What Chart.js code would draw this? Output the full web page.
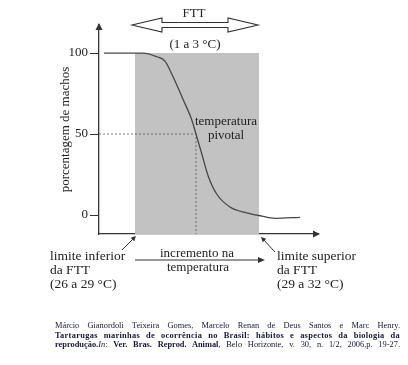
<!DOCTYPE html>
<html>
<head>
<meta charset="utf-8">
<script src="https://cdn.jsdelivr.net/npm/chart.js@4"></script>
<style>
  body { margin: 0; background: #fff; }
  #wrap { position: relative; width: 408px; height: 365px; font-family: "Liberation Serif", "Times New Roman", serif; color: #222; }
  #chart { position: absolute; left: 0; top: 0; }
  .lbl { position: absolute; font-size: 13px; line-height: 14px; white-space: nowrap; }
  .c { transform: translate(-50%, -50%); text-align: center; }
  .blk { font-size: 13.5px; line-height: 14px; }
  .cite { position: absolute; left: 55px; top: 321px; width: 345px; font-size: 8.4px; line-height: 9.6px; color: #16163a; }
  .cite div { text-align: justify; text-align-last: justify; white-space: nowrap; }
  .cite .b { font-weight: bold; letter-spacing: 0.3px; }
</style>
</head>
<body>
<div id="wrap">
  <canvas id="chart" width="408" height="365"></canvas>

  <div class="lbl c" style="left:194px; top:13px;">FTT</div>
  <div class="lbl c" style="left:195px; top:44px;">(1 a 3 °C)</div>
  <div class="lbl c" style="left:226px; top:128px;">temperatura<br>pivotal</div>

  <div class="lbl blk" style="left:50px; top:249px;">limite inferior<br>da FTT<br>(26 a 29 °C)</div>
  <div class="lbl c" style="left:197px; top:253px;">incremento na</div>
  <div class="lbl c" style="left:198px; top:267px;">temperatura</div>
  <div class="lbl blk" style="left:277px; top:249px;">limite superior<br>da FTT<br>(29 a 32 °C)</div>

  <div class="cite">
    <div>Márcio Gianordoli Teixeira Gomes, Marcelo Renan de Deus Santos e Marc Henry.</div>
    <div class="b">Tartarugas marinhas de ocorrência no Brasil: hábitos e aspectos da biologia da</div>
    <div><b>reprodução.</b><i>In</i>: <b>Ver. Bras. Reprod. Animal</b>, Belo Horizonte, v. 30, n. 1/2, 2006,p. 19-27.</div>
  </div>
</div>

<script>
// curve (temperature in arbitrary units, FTT spans 0..10)
const tempX = [-2.5, 0.67, 1.75, 2.42, 3.09, 3.9, 4.57, 4.92, 5.38, 5.91, 6.59, 7.66, 9.0, 10.22, 11.29, 13.3]
const pctMales = [100, 100, 97.7, 95, 85, 71, 59, 50, 38, 24, 13, 5, 1.4, -0.6, -2, -1.4]
const yTicks = [0, 50, 100]
const fttRange = [0, 10]
const pivot = [4.92, 50]
const xRange = [-2.9, 14.76]
const yRange = [-11.7, 117.3]

const ink = '#333'

function arrowHead(ctx, tipX, tipY, angle, len, half) {
    ctx.save()
    ctx.translate(tipX, tipY)
    ctx.rotate(angle)
    ctx.beginPath()
    ctx.moveTo(0, 0)
    ctx.lineTo(-len, -half)
    ctx.lineTo(-len, half)
    ctx.closePath()
    ctx.fill()
    ctx.restore()
}

const decorations = {
    id: 'decorations',
    afterDraw(chart) {
        const ctx = chart.ctx
        const a = chart.chartArea
        const xs = chart.scales.x
        const x0 = xs.getPixelForValue(fttRange[0])
        const x1 = xs.getPixelForValue(fttRange[1])
        ctx.save()
        ctx.fillStyle = ink
        ctx.strokeStyle = ink

        // axis arrow heads
        arrowHead(ctx, a.left, a.top - 2, -Math.PI / 2, 7, 3.5)
        arrowHead(ctx, a.right + 2, a.bottom, 0, 7, 3.5)

        // hollow double arrow for FTT
        const L = x0 - 3, R = x1 - 1, cy = 25, sh = 2.5, hh = 7, hl = 30
        ctx.beginPath()
        ctx.moveTo(L, cy)
        ctx.lineTo(L + hl, cy - hh)
        ctx.lineTo(L + hl, cy - sh)
        ctx.lineTo(R - hl, cy - sh)
        ctx.lineTo(R - hl, cy - hh)
        ctx.lineTo(R, cy)
        ctx.lineTo(R - hl, cy + hh)
        ctx.lineTo(R - hl, cy + sh)
        ctx.lineTo(L + hl, cy + sh)
        ctx.lineTo(L + hl, cy + hh)
        ctx.closePath()
        ctx.fillStyle = '#fff'
        ctx.fill()
        ctx.lineWidth = 1.1
        ctx.stroke()
        ctx.fillStyle = ink

        // increment arrow under the axis
        ctx.lineWidth = 1.2
        ctx.beginPath()
        ctx.moveTo(x0, 260)
        ctx.lineTo(x1 + 1, 260)
        ctx.stroke()
        arrowHead(ctx, x1 + 6, 260, 0, 7, 3)

        // pointers to the FTT limits
        ctx.lineWidth = 1
        ctx.beginPath()
        ctx.moveTo(x0 - 13, a.bottom + 16)
        ctx.lineTo(x0 - 1, a.bottom + 4)
        ctx.stroke()
        arrowHead(ctx, x0 + 1, a.bottom + 2, -Math.PI / 4, 5, 2.5)
        ctx.beginPath()
        ctx.moveTo(x1 + 16, a.bottom + 18)
        ctx.lineTo(x1 + 4, a.bottom + 5)
        ctx.stroke()
        arrowHead(ctx, x1 + 2, a.bottom + 3, -3 * Math.PI / 4, 5, 2.5)
        ctx.restore()
    }
}

new Chart('chart', {
    type: 'line',
    data: {
        datasets: [{
            data: tempX.map((x, i) => ({x: x, y: pctMales[i]})),
            borderColor: '#474747',
            borderWidth: 1.3,
            pointRadius: 0,
            cubicInterpolationMode: 'monotone',
            fill: false,
            order: 0
        }, {
            data: [{x: xRange[0], y: pivot[1]}, {x: pivot[0], y: pivot[1]}, {x: pivot[0], y: yRange[0]}],
            borderColor: '#555',
            borderWidth: 0.8,
            borderDash: [2, 2],
            pointRadius: 0,
            tension: 0,
            fill: false,
            order: 1
        }, {
            data: [{x: fttRange[0], y: 100}, {x: fttRange[1], y: 100}],
            borderWidth: 0,
            backgroundColor: '#c2c2c2',
            pointRadius: 0,
            fill: 'start',
            order: 2
        }]
    },
    options: {
        responsive: false,
        animation: false,
        events: [],
        layout: {padding: {top: 25, right: 90, left: 0, bottom: 0}},
        plugins: {legend: {display: false}, tooltip: {enabled: false}},
        scales: {
            x: {
                type: 'linear',
                min: xRange[0],
                max: xRange[1],
                ticks: {display: false},
                grid: {display: false},
                border: {display: true, color: ink, width: 1.3},
                afterFit: (s) => { s.height = 131 }
            },
            y: {
                type: 'linear',
                min: yRange[0],
                max: yRange[1],
                afterBuildTicks: (s) => { s.ticks = yTicks.map(v => ({value: v})) },
                afterFit: (s) => { s.width = 99 },
                ticks: {
                    padding: 2,
                    color: '#222',
                    font: {family: 'Liberation Serif', size: 13}
                },
                grid: {drawOnChartArea: false, drawTicks: true, tickLength: 9, color: ink, lineWidth: 1},
                border: {display: true, color: ink, width: 1.3},
                title: {
                    display: true,
                    text: 'porcentagem de machos',
                    color: '#222',
                    font: {family: 'Liberation Serif', size: 13},
                    padding: {top: 58, bottom: 0}
                }
            }
        }
    },
    plugins: [decorations]
});
</script>
</body>
</html>
